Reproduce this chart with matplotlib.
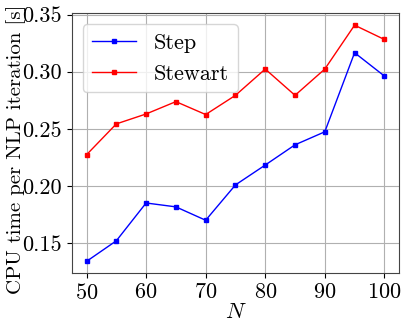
import matplotlib
matplotlib.use("Agg")
import matplotlib.pyplot as plt

plt.rcParams['font.family'] = 'serif'
plt.rcParams['font.serif'] = ['cmr10']
plt.rcParams['mathtext.fontset'] = 'cm'
plt.rcParams['axes.formatter.use_mathtext'] = True

N = [50, 55, 60, 65, 70, 75, 80, 85, 90, 95, 100]
step = [0.1340, 0.1520, 0.1851, 0.1817, 0.1700, 0.2009, 0.2183, 0.2360, 0.2474, 0.3166, 0.2962]
stewart = [0.2273, 0.2543, 0.2630, 0.2738, 0.2625, 0.2793, 0.3023, 0.2793, 0.3023, 0.3407, 0.3282]

fig = plt.figure(figsize=(4.07, 3.26), dpi=100)
ax = fig.add_axes([0.176, 0.162, 0.805, 0.797])
ax.plot(N, step, '-s', color='blue', markersize=3, linewidth=1, label='Step')
ax.plot(N, stewart, '-s', color='red', markersize=3, linewidth=1, label='Stewart')
ax.grid(True, color='#b0b0b0', linewidth=0.8)
ax.set_axisbelow(True)
ax.set_xticks([50, 60, 70, 80, 90, 100])
ax.set_yticks([0.15, 0.20, 0.25, 0.30, 0.35])
ax.set_yticklabels(['0.15', '0.20', '0.25', '0.30', '0.35'])
ax.tick_params(labelsize=16)
for s in ax.spines.values():
    s.set_color('#444444')
ax.set_xlabel(r'$N$', fontsize=16, labelpad=0)
ax.set_ylabel('CPU time per NLP iteration [s]', fontsize=15)
ax.yaxis.set_label_coords(-0.14, 0.478)
ax.legend(loc='upper left', fontsize=16)
fig.savefig('out.png', dpi=100)
